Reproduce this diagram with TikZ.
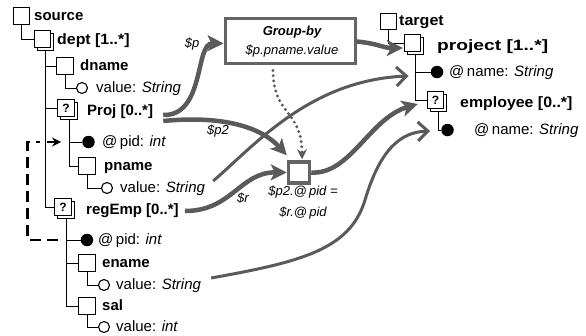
\documentclass[tikz,border=0pt]{standalone}
\usepackage{fontspec}
\setmainfont{Liberation Sans}
\usetikzlibrary{arrows.meta,shadows,calc}
\definecolor{flowgray}{RGB}{90,90,90}
\definecolor{boxgray}{RGB}{100,100,100}
\newcommand\fsz[1]{\fontsize{#1}{#1}\selectfont}
\newcommand\widen[2]{\scalebox{#1}[1]{#2}}

\begin{document}
\begin{tikzpicture}[x=1pt,y=-1pt,
  tree/.style={line width=1pt, draw=black},
  elem/.style={draw, fill=white, line width=0.8pt, minimum size=16.5pt, inner sep=0pt, font=\fsz{12}\bfseries},
  multi/.style={elem, copy shadow={shadow xshift=3pt, shadow yshift=-3pt}},
  attr/.style={circle, fill=black, minimum size=12.5pt, inner sep=0pt},
  val/.style={circle, draw, fill=white, line width=1.1pt, minimum size=11pt, inner sep=0pt},
  lbl/.style={anchor=west, inner sep=0pt, text height=11pt, text depth=3pt, font=\fsz{15}\bfseries},
  txt/.style={anchor=west, inner sep=0pt, text height=11pt, text depth=3pt, font=\fsz{15}},
  var/.style={inner sep=0pt, font=\fsz{13}\itshape},
  flow/.style={draw=flowgray, line width=4.5pt, -{Stealth[length=16pt,width=16pt,inset=4pt]}},
  map/.style={draw=flowgray, line width=3pt, -{Straight Barb[length=10pt,width=19pt]}},
  dotflow/.style={draw=flowgray, line width=3.2pt, line cap=round, dash pattern=on 0pt off 5.2pt, -{Stealth[length=10pt,width=10pt]}, shorten >=1pt},
  keyref/.style={draw=black, line width=2.6pt, dash pattern=on 11pt off 6pt},
  keytip/.style={draw=black, line width=1.6pt, -{Stealth[length=9pt,width=9pt]}},
  opbox/.style={draw=boxgray, fill=white, line width=3pt, inner sep=0pt},
]
\useasboundingbox (0,0) rectangle (586,335);

% ---------- source schema ----------
\node[elem] (src) at (21.5,16) {};
\node[lbl] (srcL) at (34,16) {source};
\node[multi] (dept) at (42.5,39) {};
\node[lbl] (deptL) at (57,40) {\widen{1.06}{dept [1..*]}};
\node[elem] (dname) at (65,66) {};
\node[lbl] (dnameL) at (80,66) {dname};
\node[val] (dval) at (82,88) {};
\node[txt] (dvalL) at (96,88) {value: \textit{String}};
\node[multi] (proj) at (66,108) {?};
\node[lbl] (projL) at (87,111) {Proj [0..*]};
\node[attr] (pidA) at (88.5,142) {};
\node[txt] (pidAL) at (102,142) {@\,pid: \textit{int}};
\node[elem] (pname) at (87,166) {};
\node[lbl] (pnameL) at (104,166) {pname};
\node[val] (pval) at (107,188) {};
\node[txt] (pvalL) at (120,188) {value: \textit{String}};
\node[multi] (regEmp) at (63,207) {?};
\node[lbl] (regL) at (86,210) {regEmp [0..*]};
\node[attr] (pidB) at (87,240) {};
\node[txt] (pidBL) at (98,240) {@\,pid: \textit{int}};
\node[elem] (ename) at (87,263) {};
\node[lbl] (enameL) at (102,263) {ename};
\node[val] (eval) at (104,285) {};
\node[txt] (evalL) at (116,285) {value: \textit{String}};
\node[elem] (sal) at (87,306) {};
\node[lbl] (salL) at (102,306) {sal};
\node[val] (sval) at (104,327) {};
\node[txt] (svalL) at (116,327) {value: \textit{int}};

\draw[tree] (src.south) |- (dept.west);
\draw[tree] ([xshift=3pt,yshift=-3pt]dept.south) |- (dname.west);
\draw[tree] ([xshift=3pt,yshift=-3pt]dept.south) |- (proj.west);
\draw[tree] ([xshift=3pt,yshift=-3pt]dept.south) |- (regEmp.west);
\draw[tree] (dname.south) |- (dval.west);
\draw[tree] ([xshift=3pt,yshift=-3pt]proj.south) |- (pidA.west);
\draw[tree] ([xshift=3pt,yshift=-3pt]proj.south) |- (pname.west);
\draw[tree] (pname.south) |- (pval.west);
\draw[tree] ([xshift=3pt,yshift=-3pt]regEmp.south) |- (pidB.west);
\draw[tree] ([xshift=3pt,yshift=-3pt]regEmp.south) |- (ename.west);
\draw[tree] ([xshift=3pt,yshift=-3pt]regEmp.south) |- (sal.west);
\draw[tree] (ename.south) |- (eval.west);
\draw[tree] (sal.south) |- (sval.west);

% key reference regEmp/@pid -> Proj/@pid
\coordinate (keyA) at ($(pidB.west)+(-23,0)$);
\coordinate (keyB) at ($(pidA.west)+(-42,0)$);
\coordinate (keyC) at ($(pidA.west)+(-35,0)$);
\draw[keyref] (keyA) -- ++(-30,0) |- (keyB);
\draw[keytip] (keyC) -- ($(pidA.west)+(-21,0)$);

% ---------- target schema ----------
\node[elem] (tgt) at (388.5,21.5) {};
\node[lbl] (tgtL) at (399,21) {\widen{1.07}{target}};
\node[multi] (prj) at (412.5,43) {};
\node[lbl] (prjL) at (437,46) {\widen{1.28}{project [1..*]}};
\node[attr] (nameA) at (437,72) {};
\node[txt] (nameAL) at (449,72) {@\,name: \textit{String}};
\node[multi] (emp) at (435.5,100) {?};
\node[lbl] (empL) at (460,103) {\widen{1.06}{employee [0..*]}};
\node[attr] (nameB) at (447.5,130) {};
\node[txt] (nameBL) at (474,130) {@\,name: \textit{String}};

\draw[tree] (tgt.south) |- (prj.west);
\draw[tree] ([xshift=3pt,yshift=-3pt]prj.south) |- (nameA.west);
\draw[tree] ([xshift=3pt,yshift=-3pt]prj.south) |- (emp.west);
\draw[tree] ([xshift=3pt,yshift=-3pt]emp.south) |- (nameB.west);

% ---------- operators ----------
\node[opbox, minimum width=130pt, minimum height=45pt] (gb) at (290,40.5) {};
\node[var, align=center, font=\fontsize{13}{19}\selectfont\itshape] (gbL) at (292,42) {\textbf{Group-by}\\\$p.pname.value};
\node[opbox, line width=3.5pt, minimum size=21pt] (join) at (299,172.5) {};
\node[var, align=center, font=\fontsize{13}{21}\selectfont\itshape] (joinL) at (303,203) {\$p2.@\,pid =\\\$r.@\,pid};

% ---------- mappings ----------
\draw[flow] ($(projL.east)+(10,4)$) .. controls (205,116) and (195,43) .. ([yshift=-3pt]gb.west);
\node[var] (pV) at (192,44) {\$p};
\draw[flow] ($(projL.east)+(10,10)$) .. controls (225,115) and (262,128) .. ([yshift=5pt]join.north west);
\node[var] (p2V) at (218,131) {\$p2};
\draw[flow] ($(regL.east)+(6,1)$) .. controls (232,211) and (240,172) .. (join.west);
\node[var] (rV) at (243,198) {\$r};
\draw[dotflow] ([xshift=-17pt,yshift=-6pt]gb.south) .. controls (273,115) and (302,110) .. ([xshift=3pt]join.north);
\draw[flow] ([yshift=-1pt]gb.east) .. controls +(22,2) and +(-20,0) .. ($(prj.west)+(-1,5)$);
\draw[flow] (join.east) .. controls (350,175) and (370,118) .. ($(emp.west)+(-9,4)$);
\draw[map] ($(pvalL.east)+(8,-7)$) .. controls (255,145) and (310,80) .. ($(nameA.west)+(-22,4)$);
\draw[map] ($(evalL.east)+(10,-7)$) .. controls (300,262) and (350,250) .. (365,200) .. controls (380,150) and (400,132) .. ($(nameB.west)+(-11,1)$);
\end{tikzpicture}
\end{document}
